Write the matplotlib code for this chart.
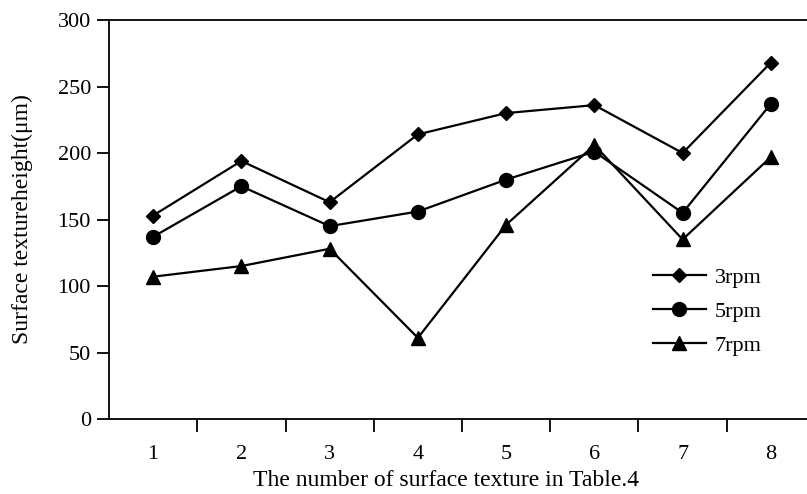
import numpy as np
import matplotlib.pyplot as plt
from matplotlib.ticker import FixedLocator

plt.rcParams['font.family'] = ['Liberation Serif', 'DejaVu Serif']

textures = [1, 2, 3, 4, 5, 6, 7, 8]
h_3rpm = [153, 194, 163, 214, 230, 236, 200, 268]
h_5rpm = [137, 175, 145, 156, 180, 201, 155, 237]
h_7rpm = [107, 115, 128, 61, 146, 206, 135, 197]


def main():
    fig = plt.figure(figsize=(8.07, 4.94), dpi=100)
    # right edge of the frame falls just outside the picture, like the original
    ax = fig.add_axes([109/807, 1 - 419/494, 706/807, 399/494])

    kw = dict(color='black', lw=1.6)
    ax.plot(textures, h_3rpm, marker='D', ms=7, label='3rpm', **kw)
    ax.plot(textures, h_5rpm, marker='o', ms=10, label='5rpm', **kw)
    ax.plot(textures, h_7rpm, marker='^', ms=10, label='7rpm', **kw)

    ax.set_xlim(0.5, 8.5)
    ax.set_ylim(0, 300)
    ax.set_yticks(np.arange(0, 301, 50))
    ax.set_xticks(textures)
    ax.xaxis.set_minor_locator(FixedLocator(np.arange(1.5, 8.5, 1)))
    ax.tick_params(axis='x', which='major', length=0, pad=19, labelsize=16)
    ax.tick_params(axis='x', which='minor', length=9, width=1.3, direction='out')
    ax.tick_params(axis='y', length=9, width=1.3, direction='out', pad=4, labelsize=16)

    for s in ['left', 'bottom', 'top']:
        ax.spines[s].set_linewidth(1.3)
    ax.spines['right'].set_visible(False)

    ax.set_ylabel('Surface textureheight(μm)', fontsize=17)
    ax.yaxis.set_label_coords(-0.107, 0.5)
    ax.set_xlabel('The number of surface texture in Table.4', fontsize=17)
    ax.xaxis.set_label_coords(0.477, -0.128)

    ax.legend(loc='upper left', bbox_to_anchor=(0.77, 0.38), frameon=False,
              fontsize=16, handlelength=2.4, handletextpad=0.4, labelspacing=0.6,
              borderaxespad=0, borderpad=0)

    plt.savefig('out.png', dpi=100)


if __name__ == '__main__':
    main()
